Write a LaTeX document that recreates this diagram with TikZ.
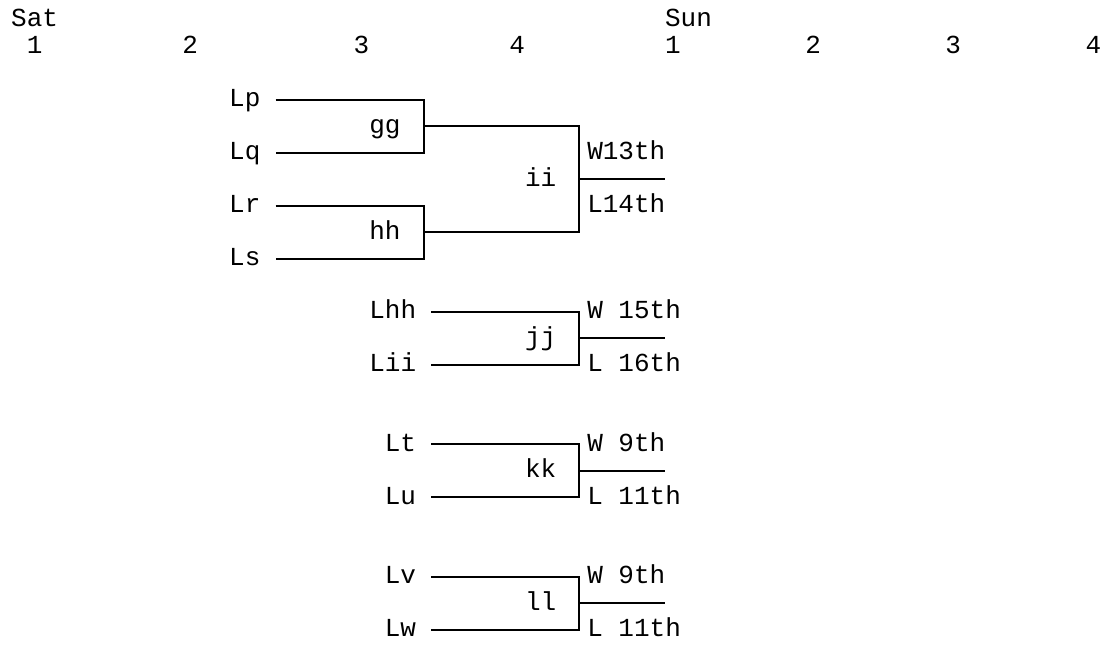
\documentclass[tikz,border=0pt]{standalone}
\usepackage{fontspec}
\newfontfamily\bracketfont{Liberation Mono}
\begin{document}
\begin{tikzpicture}[x=15.57pt, y=-26.5pt,
  lbl/.style={anchor=base west, inner sep=0pt, font=\bracketfont\fontsize{26}{26}\selectfont},
  br/.style={line width=2pt, line join=miter, black}]
\useasboundingbox[fill=white] (-11pt,27pt) rectangle (1103pt,-618pt);
\def\d{0.264}
% header
\node[lbl] (sat) at (0,0) {Sat};
\node[lbl] (sun) at (42,0) {Sun};
\node[lbl] (s1) at (1,1) {1};
\node[lbl] (s2) at (11,1) {2};
\node[lbl] (s3) at (22,1) {3};
\node[lbl] (s4) at (32,1) {4};
\node[lbl] (u1) at (42,1) {1};
\node[lbl] (u2) at (51,1) {2};
\node[lbl] (u3) at (60,1) {3};
\node[lbl] (u4) at (69,1) {4};
% first bracket
\node[lbl] (lp) at (14,3) {Lp};
\node[lbl] (gg) at (23,4) {gg};
\node[lbl] (lq) at (14,5) {Lq};
\node[lbl] (w13) at (37,5) {W13th};
\node[lbl] (ii) at (33,6) {ii};
\node[lbl] (lr) at (14,7) {Lr};
\node[lbl] (l14) at (37,7) {L14th};
\node[lbl] (hh) at (23,8) {hh};
\node[lbl] (ls) at (14,9) {Ls};
\coordinate (p1) at (17,{3-\d});
\coordinate (p2) at (26.5,{3-\d});
\coordinate (q2) at (26.5,{5-\d});
\coordinate (q1) at (17,{5-\d});
\coordinate (r1) at (17,{7-\d});
\coordinate (r2) at (26.5,{7-\d});
\coordinate (s2c) at (26.5,{9-\d});
\coordinate (s1c) at (17,{9-\d});
\coordinate (g1) at (26.5,{4-\d});
\coordinate (g2) at (36.5,{4-\d});
\coordinate (h1) at (26.5,{8-\d});
\coordinate (h2) at (36.5,{8-\d});
\coordinate (i1) at (36.5,{6-\d});
\coordinate (i2) at (42,{6-\d});
\draw[br] (p1) -- (p2) -- (q2) -- (q1);
\draw[br] (r1) -- (r2) -- (s2c) -- (s1c);
\draw[br] (g1) -- (g2) -- (h2) -- (h1);
\draw[br] (i1) -- (i2);
% jj
\node[lbl] (lhh) at (23,11) {Lhh};
\node[lbl] (jj) at (33,12) {jj};
\node[lbl] (lii) at (23,13) {Lii};
\node[lbl] (w15) at (37,11) {W 15th};
\node[lbl] (l16) at (37,13) {L 16th};
% kk
\node[lbl] (lt) at (24,16) {Lt};
\node[lbl] (kk) at (33,17) {kk};
\node[lbl] (lu) at (24,18) {Lu};
\node[lbl] (w9a) at (37,16) {W 9th};
\node[lbl] (l11a) at (37,18) {L 11th};
% ll
\node[lbl] (lv) at (24,21) {Lv};
\node[lbl] (ll) at (33,22) {ll};
\node[lbl] (lw) at (24,23) {Lw};
\node[lbl] (w9b) at (37,21) {W 9th};
\node[lbl] (l11b) at (37,23) {L 11th};
\foreach \t/\n in {11/j, 16/k, 21/l}{
  \coordinate (\n a) at (27,{\t-\d});
  \coordinate (\n b) at (36.5,{\t-\d});
  \coordinate (\n c) at (36.5,{\t+2-\d});
  \coordinate (\n e) at (27,{\t+2-\d});
  \coordinate (\n m) at (36.5,{\t+1-\d});
  \coordinate (\n o) at (42,{\t+1-\d});
  \draw[br] (\n a) -- (\n b) -- (\n c) -- (\n e);
  \draw[br] (\n m) -- (\n o);
}
\end{tikzpicture}
\end{document}
